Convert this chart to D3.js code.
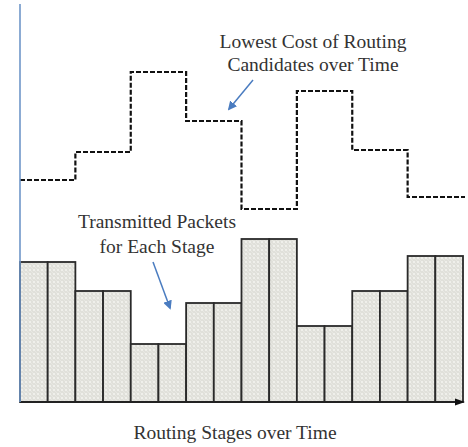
<!DOCTYPE html>
<html><head><meta charset="utf-8">
<script src="https://cdn.jsdelivr.net/npm/d3@7"></script>
<style>html,body{margin:0;padding:0;background:#fff;}</style>
</head><body>
<script>
const stages = d3.range(1, 17);
const packets = [35, 35, 27.75, 27.75, 14.5, 14.5, 24.75, 24.75, 40.75, 40.75, 19, 19, 27.75, 27.75, 36.5, 36.5];
const lowestCost = [55.5, 55.5, 62.5, 62.5, 82.5, 82.5, 70.25, 70.25, 48.25, 48.25, 77.75, 77.75, 63, 63, 51.25, 51.25];
const labels = {
  cost: ["Lowest Cost of Routing", "Candidates over Time"],
  packets: ["Transmitted Packets", "for Each Stage"],
  xTitle: "Routing Stages over Time"
};

const W = 468, H = 447;
const svg = d3.select("body").append("svg").attr("width", W).attr("height", H);
const defs = svg.append("defs");
const pat = defs.append("pattern").attr("id", "dots").attr("patternUnits", "userSpaceOnUse")
  .attr("width", 4).attr("height", 4);
pat.append("rect").attr("width", 4).attr("height", 4).attr("fill", "#e0e0da");
pat.append("circle").attr("cx", 2).attr("cy", 2).attr("r", 1.1).attr("fill", "#f3f3ef");
pat.append("circle").attr("cx", 0).attr("cy", 0).attr("r", 0.8).attr("fill", "#f0f0ec");
pat.append("circle").attr("cx", 4).attr("cy", 4).attr("r", 0.8).attr("fill", "#f0f0ec");

const x = d3.scaleBand().domain(stages).range([20, 463]).padding(0);
const y = d3.scaleLinear().domain([0, 100]).range([402, 2]);

// bars
svg.selectAll("rect.bar").data(stages).enter().append("rect")
  .attr("class", "bar")
  .attr("x", d => x(d)).attr("width", x.bandwidth())
  .attr("y", (d, i) => y(packets[i]))
  .attr("height", (d, i) => y(0) - y(packets[i]))
  .attr("fill", "url(#dots)").attr("stroke", "#2a2a2a").attr("stroke-width", 1.8);

// step line
const pts = [];
stages.forEach((s, i) => {
  pts.push([x(s), y(lowestCost[i])]);
  pts.push([x(s) + x.bandwidth(), y(lowestCost[i])]);
});
pts[pts.length - 1][0] += 2;
svg.append("path").attr("d", d3.line()(pts))
  .attr("fill", "none").attr("stroke", "#111").attr("stroke-width", 2.2)
  .attr("stroke-dasharray", "5,2");

// x axis
svg.append("line").attr("x1", 20).attr("x2", 458).attr("y1", y(0)).attr("y2", y(0))
  .attr("stroke", "#222").attr("stroke-width", 2.2);
svg.append("path").attr("d", `M455,${y(0)-3.5} L465,${y(0)} L455,${y(0)+3.5} Z`).attr("fill", "#111");

// y axis (blue)
svg.append("line").attr("x1", 20).attr("x2", 20).attr("y1", 4).attr("y2", y(0))
  .attr("stroke", "#6f96c8").attr("stroke-width", 1.6);

// arrows
const mk = defs.append("marker").attr("id", "ah").attr("viewBox", "0 0 10 10")
  .attr("refX", 8).attr("refY", 5).attr("markerWidth", 6).attr("markerHeight", 6)
  .attr("orient", "auto").attr("markerUnits", "strokeWidth");
mk.append("path").attr("d", "M0,0 L10,5 L0,10 Z").attr("fill", "#4a7cc0");
svg.append("line").attr("x1", 253).attr("y1", 80).attr("x2", 229).attr("y2", 109)
  .attr("stroke", "#4a7cc0").attr("stroke-width", 1.5).attr("marker-end", "url(#ah)");
svg.append("line").attr("x1", 153).attr("y1", 262).attr("x2", 170).attr("y2", 308)
  .attr("stroke", "#4a7cc0").attr("stroke-width", 1.5).attr("marker-end", "url(#ah)");

// texts
const tf = "'Liberation Serif', 'Times New Roman', serif";
function textBlock(lines, cx, y0, dy) {
  lines.forEach((t, i) => {
    svg.append("text").attr("x", cx).attr("y", y0 + i * dy).attr("text-anchor", "middle")
      .attr("font-family", tf).attr("font-size", 19.5).attr("fill", "#333").text(t);
  });
}
textBlock(labels.cost, 313, 48, 23);
textBlock(labels.packets, 157, 228, 25);
textBlock([labels.xTitle], 235, 439, 0);
</script>
</body></html>
